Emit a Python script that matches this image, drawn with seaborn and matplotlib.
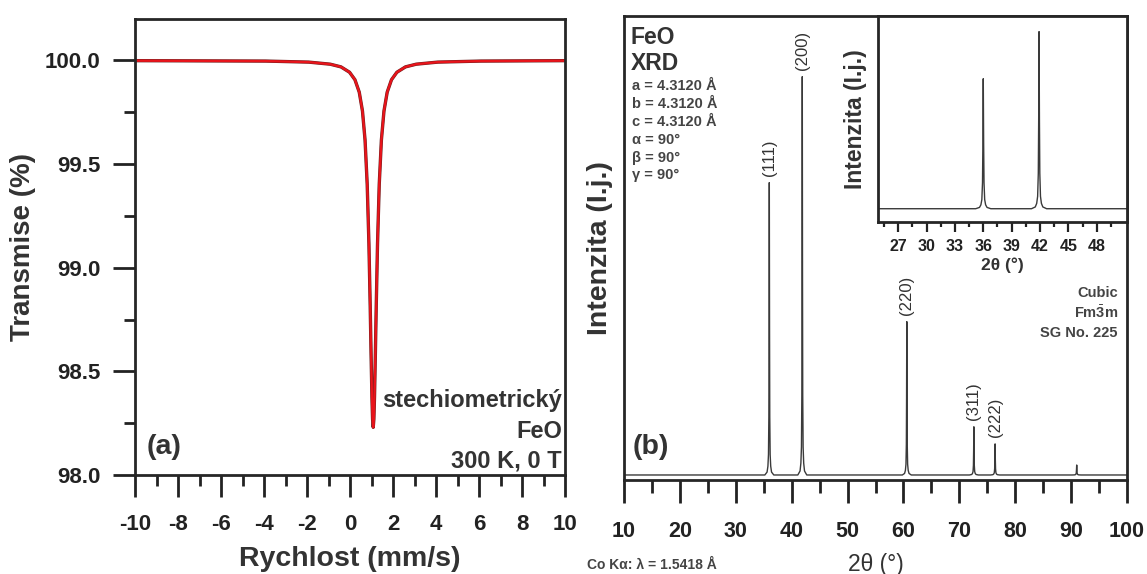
import matplotlib
matplotlib.use('Agg')
import matplotlib.pyplot as plt
import seaborn as sns

# (a) Mossbauer spectrum
velocity = [-10, -3.92, -1.92, -0.92, -0.42, -0.02, 0.23, 0.43, 0.58, 0.70, 0.80, 0.88, 0.94, 0.98,
            1.02, 1.05, 1.08, 1.11, 1.14, 1.18, 1.22, 1.28, 1.36, 1.46, 1.58, 1.73, 1.93, 2.18,
            2.58, 3.08, 4.08, 6.08, 10]
transmission = [99.999, 99.997, 99.992, 99.982, 99.969, 99.943, 99.907, 99.847, 99.756, 99.616,
                99.402, 99.115, 98.812, 98.584, 98.376, 98.269, 98.230, 98.269, 98.376, 98.584,
                98.812, 99.115, 99.402, 99.616, 99.756, 99.847, 99.907, 99.943, 99.969, 99.982,
                99.992, 99.997, 99.999]

# (b) XRD reflections
peak_pos = [36.0, 41.9, 60.6, 72.6, 76.4, 91.0]
peak_int = [734, 1000, 385, 121, 78, 25]
peak_hkl = ['(111)', '(200)', '(220)', '(311)', '(222)', '']
# peak profile template (offset in deg, fraction of peak height)
shape_dx = [-0.8, -0.4, -0.25, -0.15, -0.08, -0.04, 0, 0.04, 0.08, 0.15, 0.25, 0.4, 0.8]
shape_fr = [0, 0.01, 0.03, 0.07, 0.2, 0.5, 1, 0.5, 0.2, 0.07, 0.03, 0.01, 0]

two_theta = [10.0]
intensity = [0.0]
for p, h in zip(peak_pos, peak_int):
    two_theta += [p + d for d in shape_dx]
    intensity += [h * f for f in shape_fr]
two_theta.append(100.0)
intensity.append(0.0)

sns.set_theme(style='ticks')
plt.rcParams['font.family'] = ['Liberation Sans', 'DejaVu Sans']
plt.rcParams['axes.unicode_minus'] = False
plt.rcParams['mathtext.fontset'] = 'custom'
plt.rcParams['mathtext.rm'] = 'Liberation Sans'
plt.rcParams['mathtext.bf'] = 'Liberation Sans:bold'
plt.rcParams['axes.linewidth'] = 2.0

W, H = 1147, 574
fig = plt.figure(figsize=(W / 100, H / 100), dpi=100)
fig.patch.set_facecolor('white')

def box(x0, x1, y0, y1):
    return [x0 / W, 1 - y1 / H, (x1 - x0) / W, (y1 - y0) / H]

def txt(x, y, s, **kw):
    fig.text(x / W, 1 - y / H, s, **kw)

DARK = '#222222'
GREY = '#444444'

# ---------------- panel (a)
ax1 = fig.add_axes(box(135, 565, 19, 475))
sns.lineplot(x=velocity, y=transmission, ax=ax1, color='#6b1f1f', lw=2.4, estimator=None, sort=False)
sns.lineplot(x=velocity, y=transmission, ax=ax1, color='#e8141b', lw=1.7, estimator=None, sort=False)
ax1.set_xlim(-10, 10)
ax1.set_ylim(98.0, 100.2)
ax1.set_xticks(range(-10, 11, 2))
ax1.set_xticks(range(-9, 10, 2), minor=True)
ax1.set_yticks([98.0, 98.5, 99.0, 99.5, 100.0])
ax1.set_yticks([98.25, 98.75, 99.25, 99.75], minor=True)
ax1.set_yticklabels(['98.0', '98.5', '99.0', '99.5', '100.0'])
ax1.tick_params(which='major', length=16, width=2, labelsize=16, colors=DARK, direction='out')
ax1.tick_params(which='minor', length=8, width=2, colors=DARK, direction='out')
ax1.tick_params(axis='y', pad=9)
ax1.tick_params(axis='x', pad=12)
for lab in ax1.get_xticklabels() + ax1.get_yticklabels():
    lab.set_fontweight('bold')
ax1.set_xlabel('Rychlost (mm/s)', fontsize=20.5, fontweight='bold', color='#333', labelpad=8)
ax1.set_ylabel('Transmise (%)', fontsize=20, fontweight='bold', color='#333', labelpad=6)

txt(562, 401, 'stechiometrický', ha='right', va='center', fontsize=17, fontweight='bold', color='#333')
txt(562, 431, 'FeO', ha='right', va='center', fontsize=17, fontweight='bold', color='#333')
txt(562, 461, '300 K, 0 T', ha='right', va='center', fontsize=17, fontweight='bold', color='#333')
txt(147, 447, '(a)', ha='left', va='center', fontsize=20.5, fontweight='bold', color='#333')

# ---------------- panel (b)
ax2 = fig.add_axes(box(624, 1127, 15.7, 480))
sns.lineplot(x=two_theta, y=intensity, ax=ax2, color='#3a3a3a', lw=1.0, estimator=None, sort=False)
ax2.set_xlim(10, 100)
ax2.set_ylim(-12.6, 1153)
ax2.set_xticks(range(10, 101, 10))
ax2.set_xticks(range(15, 100, 10), minor=True)
ax2.set_yticks([])
ax2.tick_params(which='major', length=16.5, width=2, labelsize=15.5, colors=DARK, direction='out', pad=13)
ax2.tick_params(which='minor', length=9, width=2, colors=DARK, direction='out')
for lab in ax2.get_xticklabels():
    lab.set_fontweight('bold')
ax2.set_xlabel('2θ (°)', fontsize=16.5, color='#333', labelpad=8)
ax2.set_ylabel('Intenzita (I.j.)', fontsize=20.5, fontweight='bold', color='#333', labelpad=8)

for p, h, lab in zip(peak_pos, peak_int, peak_hkl):
    if lab:
        ax2.annotate(lab, xy=(p, h), xytext=(0, 5), textcoords='offset points', rotation=90,
                     ha='center', va='bottom', fontsize=12, color='#333')

txt(631, 37, 'FeO', ha='left', va='center', fontsize=16.5, fontweight='bold', color='#333')
txt(631, 63, 'XRD', ha='left', va='center', fontsize=16.5, fontweight='bold', color='#333')
params = ['a = 4.3120 Å', 'b = 4.3120 Å', 'c = 4.3120 Å', 'α = 90°', 'β = 90°', 'γ = 90°']
for i, s in enumerate(params):
    txt(632, 86 + i * 17.9, s, ha='left', va='center', fontsize=10.5, fontweight='bold', color=GREY)
txt(1118, 293, 'Cubic', ha='right', va='center', fontsize=10.5, fontweight='bold', color=GREY)
txt(1118, 313, r'Fm$\bar{\mathbf{3}}$m', ha='right', va='center', fontsize=10.5, fontweight='bold', color=GREY)
txt(1118, 333, 'SG No. 225', ha='right', va='center', fontsize=10.5, fontweight='bold', color=GREY)
txt(633, 447, '(b)', ha='left', va='center', fontsize=20.5, fontweight='bold', color='#333')
txt(587, 565, 'Co Kα: λ = 1.5418 Å', ha='left', va='center', fontsize=10, fontweight='bold', color=GREY)

# inset
ax3 = fig.add_axes(box(878.3, 1127, 15.7, 222))
sns.lineplot(x=two_theta, y=intensity, ax=ax3, color='#3a3a3a', lw=1.0, estimator=None, sort=False)
ax3.set_xlim(24.9, 51.2)
ax3.set_ylim(-75, 1090)
ax3.set_xticks(range(27, 49, 3))
ax3.set_xticks([25.5 + 3 * i for i in range(9)], minor=True)
ax3.set_yticks([])
ax3.tick_params(which='major', length=7, width=1.6, labelsize=11.5, colors=DARK, direction='out', pad=5)
ax3.tick_params(which='minor', length=3.6, width=1.6, colors=DARK, direction='out')
for lab in ax3.get_xticklabels():
    lab.set_fontweight('bold')
ax3.set_xlabel('2θ (°)', fontsize=12.5, fontweight='bold', color='#333', labelpad=3)
ax3.set_ylabel('Intenzita (I.j.)', fontsize=16.5, fontweight='bold', color='#333', labelpad=8)

fig.savefig('out.png', dpi=100, facecolor='white')
